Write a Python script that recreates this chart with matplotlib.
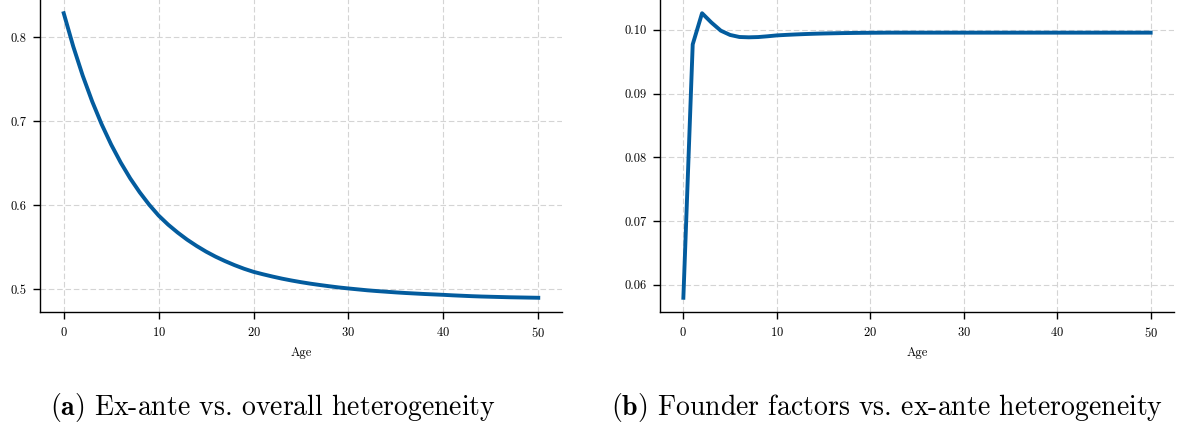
import matplotlib
matplotlib.use("Agg")
import matplotlib.pyplot as plt

# Computer Modern look (fonts bundled with matplotlib)
plt.rcParams['font.family'] = 'serif'
plt.rcParams['font.serif'] = ['cmr10']
plt.rcParams['mathtext.fontset'] = 'cm'
plt.rcParams['axes.formatter.use_mathtext'] = True

# Data
age = list(range(51))
exante_share = [
    0.8289, 0.7894, 0.7545, 0.7237, 0.6964, 0.6723, 0.6510, 0.6321, 0.6155, 0.6007,
    0.5877, 0.5769, 0.5675, 0.5590, 0.5515, 0.5447, 0.5387, 0.5334, 0.5286, 0.5243,
    0.5206, 0.5177, 0.5150, 0.5125, 0.5103, 0.5083, 0.5065, 0.5049, 0.5034, 0.5020,
    0.5008, 0.4997, 0.4986, 0.4977, 0.4969, 0.4961, 0.4954, 0.4948, 0.4942, 0.4937,
    0.4932, 0.4926, 0.4921, 0.4916, 0.4912, 0.4909, 0.4906, 0.4903, 0.4901, 0.4899,
    0.4897,
]
founder_share = [
    0.05796, 0.09773, 0.10262, 0.10116, 0.09989, 0.09921, 0.09889, 0.09884, 0.09888, 0.09900,
    0.09914, 0.09922, 0.09929, 0.09935, 0.09940, 0.09944, 0.09947, 0.09950, 0.09952, 0.09954,
    0.09955, 0.09956, 0.09957, 0.09957, 0.09957, 0.09957, 0.09957, 0.09957, 0.09957, 0.09957,
    0.09957, 0.09957, 0.09957, 0.09957, 0.09957, 0.09957, 0.09957, 0.09957, 0.09957, 0.09957,
    0.09957, 0.09957, 0.09957, 0.09957, 0.09957, 0.09957, 0.09957, 0.09957, 0.09957, 0.09957,
    0.09957,
]
left_yticks = [0.5, 0.6, 0.7, 0.8]
right_yticks = [0.06, 0.07, 0.08, 0.09, 0.10]
xticks = [0, 10, 20, 30, 40, 50]
captions = [r"$\mathbf{(a)}$ Ex-ante vs. overall heterogeneity",
            r"$\mathbf{(b)}$ Founder factors vs. ex-ante heterogeneity"]

line_color = '#035c9e'

fig = plt.figure(figsize=(11.81, 4.30), dpi=100)
ax1 = fig.add_axes([40 / 1181, 118 / 430, 522 / 1181, 313 / 430])
ax2 = fig.add_axes([660 / 1181, 118 / 430, 514 / 1181, 313 / 430])

for ax, y, yt, fmt in [(ax1, exante_share, left_yticks, '%.1f'),
                       (ax2, founder_share, right_yticks, '%.2f')]:
    ax.plot(age, y, color=line_color, lw=2.8, zorder=3)
    ax.set_xticks(xticks)
    ax.set_yticks(yt)
    ax.set_yticklabels([fmt % v for v in yt])
    ax.grid(True, linestyle=(0, (5, 2.5)), color='#d4d4d4', lw=0.8)
    ax.set_axisbelow(True)
    for s in ['top', 'right']:
        ax.spines[s].set_visible(False)
    for s in ['left', 'bottom']:
        ax.spines[s].set_linewidth(1.0)
    ax.tick_params(labelsize=9, length=4.8, width=1.0, pad=5)
    ax.set_xlabel('Age', fontsize=9, labelpad=5)

fig.text(50 / 1181, 1 - 408 / 430, captions[0], fontsize=20, va='center', ha='left')
fig.text(611 / 1181, 1 - 408 / 430, captions[1], fontsize=20, va='center', ha='left')

fig.savefig('out.png', dpi=100)
